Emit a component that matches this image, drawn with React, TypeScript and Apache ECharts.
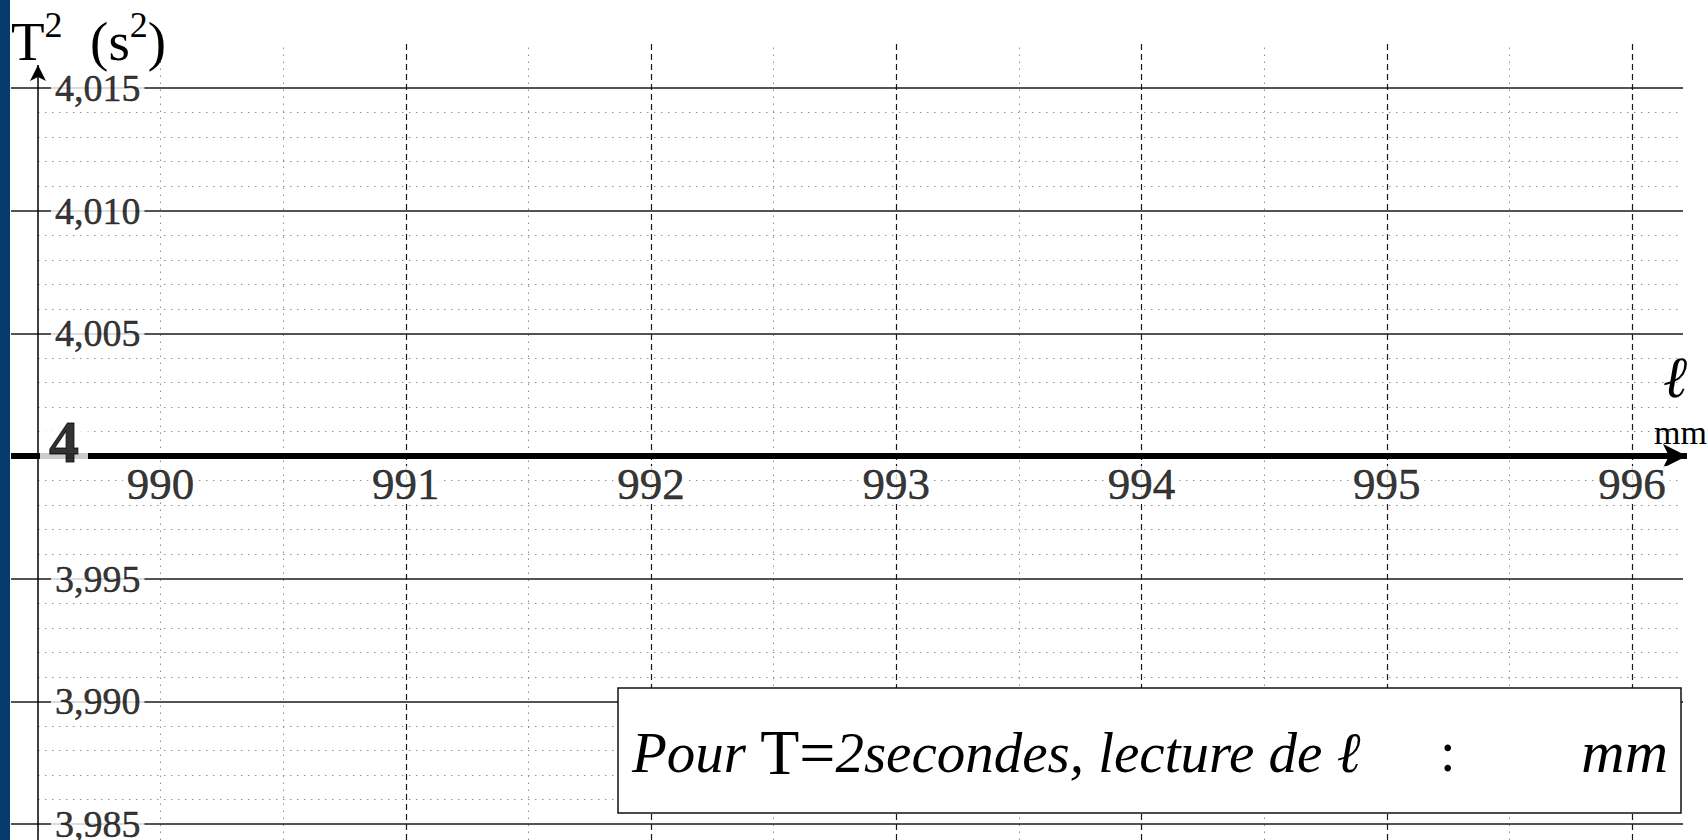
import { useEffect, useRef } from 'react';
import * as echarts from 'echarts';

// ---- data ----
const X_LABEL_VALUES = [990, 991, 992, 993, 994, 995, 996];
const X_LABELS = ['990', '991', '992', '993', '994', '995', '996'];
const DASHED_X = [991, 992, 993, 994, 995, 996];
const DOTTED_X = [990, 990.5, 991.5, 992.5, 993.5, 994.5, 995.5];
const MAJOR_Y = [3.985, 3.99, 3.995, 4.005, 4.01, 4.015];
const MAJOR_Y_LABELS = ['3,985', '3,990', '3,995', '4,005', '4,010', '4,015'];
const MINOR_Y = [
  3.986, 3.987, 3.988, 3.989, 3.991, 3.992, 3.993, 3.994, 3.996, 3.997, 3.998, 3.999,
  4.001, 4.002, 4.003, 4.004, 4.006, 4.007, 4.008, 4.009, 4.011, 4.012, 4.013, 4.014,
];
const AXIS_Y = 4;
const AXIS_Y_LABEL = '4';

// axis extents
const X_MIN = 989.39;
const X_MAX = 996.265;
const Y_MIN = 3.98435;
const Y_MAX = 4.0168;
const Y_AXIS_X = 989.5;
const GRID_END_X = 996.208;
const X_ARROW_END = 996.224;
const Y_ARROW_END = 4.01594;

const SERIF = '"Liberation Serif", "DejaVu Serif", serif';

const hLine = (y: number, x1: number, x2: number, end: any = {}) => [
  { coord: [x1, y] },
  { coord: [x2, y], ...end },
];
const vLine = (x: number, y1: number, y2: number, end: any = {}) => [
  { coord: [x, y1] },
  { coord: [x, y2], ...end },
];

const lineSeries = (name: string, data: any[], lineStyle: any, z: number) => ({
  type: 'line',
  name,
  data: [],
  z,
  clip: false,
  silent: true,
  markLine: {
    silent: true,
    animation: false,
    symbol: ['none', 'none'],
    label: { show: false },
    emphasis: { disabled: true },
    lineStyle,
    data,
  },
});

export default function App() {
  const ref = useRef<HTMLDivElement>(null);

  useEffect(() => {
    if (!ref.current) return;
    const chart = echarts.init(ref.current, undefined, { renderer: 'svg' });

    const dotted = { color: '#909090', width: 1, type: [1.5, 5.5] };
    const ink = { textBorderColor: '#000', textBorderWidth: 0.5 };

    const option: any = {
      animation: false,
      backgroundColor: '#ffffff',
      grid: { left: 11, right: 11, top: 44, bottom: 0, containLabel: false },
      xAxis: { type: 'value', min: X_MIN, max: X_MAX, show: false },
      yAxis: { type: 'value', min: Y_MIN, max: Y_MAX, show: false },
      series: [
        lineSeries('minorH', MINOR_Y.map((y) => hLine(y, Y_AXIS_X, GRID_END_X)), dotted, 1),
        lineSeries('dottedV', DOTTED_X.map((x) => vLine(x, Y_MIN, Y_MAX)), dotted, 1),
        lineSeries(
          'dashedV',
          DASHED_X.map((x) => vLine(x, Y_MIN, Y_MAX)),
          { color: '#1a1a1a', width: 1.2, type: [6, 4] },
          2
        ),
        lineSeries(
          'majorH',
          MAJOR_Y.map((y) => hLine(y, X_MIN, GRID_END_X)),
          { color: '#1a1a1a', width: 1.6, type: 'solid' },
          3
        ),
        lineSeries(
          'yAxis',
          [vLine(Y_AXIS_X, Y_MIN, Y_ARROW_END, { symbol: 'arrow', symbolSize: [12, 16] })],
          { color: '#000', width: 1.5, type: 'solid' },
          4
        ),
        lineSeries(
          'xAxis',
          [hLine(AXIS_Y, X_MIN, X_ARROW_END, { symbol: 'arrow', symbolSize: [18, 24] })],
          { color: '#000', width: 6, type: 'solid' },
          5
        ),
        {
          type: 'scatter',
          name: 'yLabels',
          z: 10,
          silent: true,
          symbolSize: 0,
          data: MAJOR_Y.map((v, i) => ({ name: MAJOR_Y_LABELS[i], value: [Y_AXIS_X, v] })),
          label: {
            show: true,
            position: 'right',
            distance: 13,
            formatter: '{b}',
            fontFamily: SERIF,
            fontSize: 38,
            color: '#000',
            ...ink,
            backgroundColor: '#fff',
            padding: [0, 4],
            lineHeight: 30,
          },
        },
        {
          type: 'scatter',
          name: 'axisLabel4',
          z: 10,
          silent: true,
          symbolSize: 0,
          data: [{ name: AXIS_Y_LABEL, value: [Y_AXIS_X, AXIS_Y] }],
          label: {
            show: true,
            position: 'right',
            distance: 2,
            offset: [0, -14],
            formatter: '{b}',
            fontFamily: SERIF,
            fontWeight: 'bold',
            fontSize: 60,
            color: '#000',
            textBorderColor: '#000',
            textBorderWidth: 1,
            backgroundColor: '#fff',
            padding: [0, 9],
            lineHeight: 44,
          },
        },
        {
          type: 'scatter',
          name: 'xLabels',
          z: 10,
          silent: true,
          symbolSize: 0,
          data: X_LABEL_VALUES.map((v, i) => ({ name: X_LABELS[i], value: [v, AXIS_Y] })),
          label: {
            show: true,
            position: 'bottom',
            distance: 10,
            formatter: '{b}',
            fontFamily: SERIF,
            fontSize: 45,
            color: '#000',
            ...ink,
            backgroundColor: '#fff',
            padding: [0, 4],
            lineHeight: 36,
          },
        },
      ],
      graphic: [
        { type: 'rect', shape: { x: 0, y: 0, width: 10, height: 840 }, style: { fill: '#053a6e' }, z: 100 },
        {
          type: 'text',
          x: 11,
          y: 7,
          z: 100,
          style: {
            text: '{t|T}{sup|2}{t|  (s}{sup|2}{t|)}',
            rich: {
              t: { fontFamily: SERIF, fontSize: 55, fill: '#000', lineHeight: 62, verticalAlign: 'bottom' },
              sup: { fontFamily: SERIF, fontSize: 36, fill: '#000', lineHeight: 26, verticalAlign: 'top' },
            },
          },
        },
        {
          type: 'text',
          x: 1675,
          y: 377,
          z: 100,
          style: {
            text: 'ℓ',
            fontFamily: SERIF,
            fontStyle: 'italic',
            fontSize: 58,
            fill: '#000',
            align: 'center',
            verticalAlign: 'middle',
          },
        },
        {
          type: 'text',
          x: 1707,
          y: 432,
          z: 100,
          style: {
            text: 'mm',
            fontFamily: SERIF,
            fontSize: 34,
            fill: '#000',
            align: 'right',
            verticalAlign: 'middle',
          },
        },
        {
          type: 'rect',
          z: 100,
          shape: { x: 618, y: 688, width: 1063, height: 125 },
          style: { fill: '#fff', stroke: '#111', lineWidth: 1.5 },
        },
        {
          type: 'text',
          x: 632,
          y: 752,
          z: 101,
          style: {
            text: '{s|Pour }{r|T=}{s|2secondes, lecture de ℓ}',
            verticalAlign: 'middle',
            rich: {
              s: { fontFamily: SERIF, fontStyle: 'italic', fontSize: 57, fill: '#000' },
              r: { fontFamily: SERIF, fontSize: 64, fill: '#000' },
            },
          },
        },
        {
          type: 'text',
          x: 1440,
          y: 752,
          z: 101,
          style: { text: ':', fontFamily: SERIF, fontSize: 56, fill: '#000', verticalAlign: 'middle' },
        },
        {
          type: 'text',
          x: 1668,
          y: 752,
          z: 101,
          style: {
            text: 'mm',
            fontFamily: SERIF,
            fontStyle: 'italic',
            fontSize: 60,
            fill: '#000',
            align: 'right',
            verticalAlign: 'middle',
          },
        },
      ],
    };

    chart.setOption(option);
    return () => chart.dispose();
  }, []);

  return (
    <div
      ref={ref}
      style={{ position: 'fixed', left: 0, top: 0, width: 1708, height: 840, background: '#fff' }}
    />
  );
}
